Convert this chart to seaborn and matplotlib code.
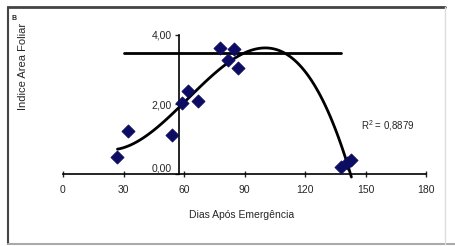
import numpy as np
import pandas as pd
import matplotlib
matplotlib.use("Agg")
import matplotlib.pyplot as plt
import seaborn as sns

# Data
dias = [27, 32, 54, 59, 62, 67, 78, 82, 85, 87, 138, 141, 143]
iaf = [0.49, 1.23, 1.11, 2.03, 2.39, 2.08, 3.62, 3.28, 3.59, 3.04, 0.20, 0.30, 0.39]
ref_level = 3.47
ref_x = [30, 138]
xticks = [0, 30, 60, 90, 120, 150, 180]
yticks = [0, 2, 4]
ytick_labels = ["0,00", "2,00", "4,00"]
r2_text = "R$^2$ = 0,8879"

df = pd.DataFrame({"dias": dias, "iaf": iaf})

sns.set_style("white")
plt.rcParams["font.family"] = ["Liberation Sans", "DejaVu Sans"]
plt.rcParams["mathtext.fontset"] = "custom"
plt.rcParams["mathtext.rm"] = "Liberation Sans"

W, H = 455, 246
fig = plt.figure(figsize=(W / 100, H / 100), dpi=100)

def px(x, y):
    return x / W, 1 - y / H

# axes mapping: x 0->63px, 180->426px ; y 0->173.5px, 4->35px
ylo, yhi = -0.5, 4.3
ppu = (173.5 - 35) / 4
ytop_px = 173.5 - yhi * ppu
ybot_px = 173.5 - ylo * ppu
ax = fig.add_axes([63 / W, 1 - ybot_px / H, (426 - 63) / W, (ybot_px - ytop_px) / H])
ax.set_xlim(0, 180)
ax.set_ylim(ylo, yhi)
ax.patch.set_alpha(0)

# reference horizontal line
ax.plot(ref_x, [ref_level, ref_level], color="black", lw=2, zorder=2)

sns.regplot(data=df, x="dias", y="iaf", order=3, ci=None, scatter=False,
            truncate=True, color="black", line_kws={"lw": 2}, ax=ax)
sns.scatterplot(data=df, x="dias", y="iaf", marker="D", s=45, color="#0c0c62",
                edgecolor="#0c0c62", ax=ax, zorder=3, clip_on=False)

for s in ["top", "right"]:
    ax.spines[s].set_visible(False)
ax.spines["bottom"].set_position(("data", 0))
ax.spines["bottom"].set_bounds(0, 180)
ax.spines["left"].set_position(("data", 57.5))
ax.spines["left"].set_bounds(0, 4)
for s in ["bottom", "left"]:
    ax.spines[s].set_color("black")
    ax.spines[s].set_linewidth(1.2)

ax.set_xticks(xticks)
ax.set_xticklabels([str(t) for t in xticks], fontsize=7.5)
ax.set_yticks(yticks)
ax.set_yticklabels(ytick_labels, fontsize=7.5)
ax.get_yticklabels()[0].set_va("bottom")
ax.tick_params(axis="x", direction="inout", length=5, width=1, pad=6, bottom=True)
ax.tick_params(axis="y", direction="out", length=3, width=1, pad=2, left=True)
ax.set_xlabel("")
ax.set_ylabel("")

fig.text(*px(242, 215), "Dias Após Emergência", fontsize=7.5, ha="center", va="center")
fig.text(*px(23, 66), "Indice Area Foliar", fontsize=8, ha="center", va="center", rotation=90)
fig.text(*px(14, 18), "B", fontsize=5, fontweight="bold", ha="center", va="center")
fig.text(*px(388, 126), r2_text, fontsize=7, ha="center", va="center")

# outer frame
fig.add_artist(plt.Line2D([8 / W, 445 / W], [1 - 7 / H] * 2, transform=fig.transFigure, color="#444444", lw=2))
fig.add_artist(plt.Line2D([8 / W] * 2, [1 - 7 / H, 1 - 244 / H], transform=fig.transFigure, color="#444444", lw=1.5))
fig.add_artist(plt.Line2D([8 / W, 455 / W], [1 - 244 / H] * 2, transform=fig.transFigure, color="#aaaaaa", lw=1.5))
fig.add_artist(plt.Line2D([445 / W] * 2, [1 - 7 / H, 1 - 244 / H], transform=fig.transFigure, color="#dddddd", lw=1))

fig.savefig("out.png", dpi=100)
